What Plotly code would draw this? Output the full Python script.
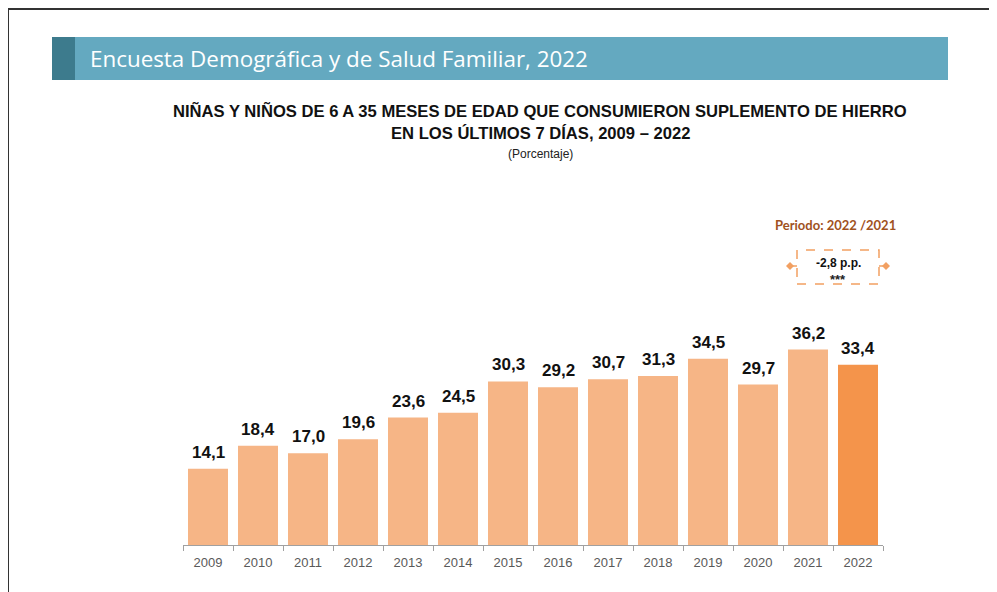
import plotly.graph_objects as go

years = ["2009", "2010", "2011", "2012", "2013", "2014", "2015",
         "2016", "2017", "2018", "2019", "2020", "2021", "2022"]
values = [14.1, 18.4, 17.0, 19.6, 23.6, 24.5, 30.3,
          29.2, 30.7, 31.3, 34.5, 29.7, 36.2, 33.4]
colors = ["#F6B586"] * 13 + ["#F4944B"]

header_text = "Encuesta Demográfica y de Salud Familiar, 2022"
title_l1 = "NIÑAS Y NIÑOS DE 6 A 35 MESES DE EDAD QUE CONSUMIERON SUPLEMENTO DE HIERRO"
title_l2 = "EN LOS ÚLTIMOS 7 DÍAS, 2009 – 2022"
subtitle = "(Porcentaje)"
period_text = "Periodo: 2022 /2021"
diff_text = "-2,8 p.p."
sig_text = "***"

# page has an 8px body margin: the figure starts at (8, 8) in the window
OX, OY = 8, 8
W, H = 997 - OX, 592 - OY
# plot area in window pixels
PL, PR, PT, PB = 183, 883, 221, 545
L, R, T, B = PL - OX, (OX + W) - PR, PT - OY, (OY + H) - PB
PW = PR - PL
PH = PB - PT

NARROW = "Liberation Sans Narrow, Arial Narrow, Liberation Sans, Arial"
ORANGE_LINE = "#F2A062"


def px(x):
    return (x - PL) / PW


def py(y):
    return (PB - y) / PH


def diamond(cx, cy, r):
    return dict(type="path", xref="paper", yref="paper",
                path=f"M {px(cx - r)} {py(cy)} L {px(cx)} {py(cy - r)} L {px(cx + r)} {py(cy)} "
                     f"L {px(cx)} {py(cy + r)} Z",
                fillcolor=ORANGE_LINE, line=dict(width=0))


fig = go.Figure()
fig.add_trace(go.Bar(
    x=years, y=values,
    marker=dict(color=colors, line=dict(width=0)),
    hoverinfo="skip",
))

shapes = []
# outer frame (top and left)
shapes.append(dict(type="line", xref="paper", yref="paper", x0=px(8), x1=px(1000), y0=py(9), y1=py(9),
                   line=dict(color="#333333", width=2)))
shapes.append(dict(type="line", xref="paper", yref="paper", x0=px(8), x1=px(8), y0=py(9), y1=py(600),
                   line=dict(color="#333333", width=2)))
# header band
shapes.append(dict(type="rect", xref="paper", yref="paper", x0=px(52), x1=px(948), y0=py(80), y1=py(37),
                   fillcolor="#64A9C0", line=dict(width=0), layer="below"))
shapes.append(dict(type="rect", xref="paper", yref="paper", x0=px(52), x1=px(75), y0=py(80), y1=py(37),
                   fillcolor="#3D7B8D", line=dict(width=0), layer="below"))
# dashed box
shapes.append(dict(type="rect", xref="paper", yref="paper", x0=px(797), x1=px(879), y0=py(284), y1=py(250),
                   fillcolor="rgba(0,0,0,0)", line=dict(color=ORANGE_LINE, width=1.5, dash="dash")))
# connectors with diamond ends
shapes.append(dict(type="line", xref="paper", yref="paper", x0=px(790), x1=px(797), y0=py(266), y1=py(266),
                   line=dict(color=ORANGE_LINE, width=1.5)))
shapes.append(dict(type="line", xref="paper", yref="paper", x0=px(879), x1=px(886), y0=py(266), y1=py(266),
                   line=dict(color=ORANGE_LINE, width=1.5)))
shapes.append(diamond(790, 266, 4))
shapes.append(diamond(886, 266, 4))

annotations = [
    dict(text=header_text, xref="paper", yref="paper", x=px(88), y=py(58), xanchor="left", yanchor="middle",
         showarrow=False, font=dict(family="Open Sans", size=22.4, color="white")),
    dict(text="<b>" + title_l1 + "</b>", xref="paper", yref="paper", x=px(540), y=py(111), xanchor="center",
         yanchor="middle", showarrow=False, font=dict(family=NARROW, size=16.6, color="#111111")),
    dict(text="<b>" + title_l2 + "</b>", xref="paper", yref="paper", x=px(540), y=py(134), xanchor="center",
         yanchor="middle", showarrow=False, font=dict(family=NARROW, size=16.6, color="#111111")),
    dict(text=subtitle, xref="paper", yref="paper", x=px(540), y=py(154), xanchor="center",
         yanchor="middle", showarrow=False, font=dict(family=NARROW, size=12, color="#222222")),
    dict(text="<b>" + period_text + "</b>", xref="paper", yref="paper", x=px(898), y=py(225), xanchor="right",
         yanchor="middle", showarrow=False, font=dict(family="Lato", size=13, color="#A0521E")),
    dict(text="<b>" + diff_text + "</b>", xref="paper", yref="paper", x=px(838), y=py(263), xanchor="center",
         yanchor="middle", showarrow=False, font=dict(family=NARROW, size=12, color="#111111")),
    dict(text="<b>" + sig_text + "</b>", xref="paper", yref="paper", x=px(838), y=py(279), xanchor="center",
         yanchor="middle", showarrow=False, font=dict(family=NARROW, size=13, color="#222222")),
]

# value labels above bars (x given as category index)
for i, v in enumerate(values):
    annotations.append(dict(
        x=i, y=v, xref="x", yref="y", text="<b>" + f"{v:.1f}".replace(".", ",") + "</b>",
        showarrow=False, yanchor="bottom", xanchor="center", yshift=5,
        font=dict(family=NARROW, size=17, color="#111111"),
    ))

fig.update_layout(
    width=W, height=H,
    margin=dict(l=L, r=R, t=T, b=B),
    paper_bgcolor="white", plot_bgcolor="white",
    showlegend=False,
    bargap=0.2,
    shapes=shapes,
    annotations=annotations,
    xaxis=dict(type="category", range=[-0.5, len(years) - 0.5], autorange=False,
               showgrid=False, showline=True, linecolor="#A0A0A0", linewidth=1,
               ticks="outside", tickson="boundaries", ticklen=5, tickcolor="#A0A0A0",
               ticklabelstandoff=5,
               tickfont=dict(family=NARROW, size=13, color="#595959"),
               fixedrange=True),
    yaxis=dict(range=[0, 60], autorange=False, visible=False, fixedrange=True),
)

fig.write_html("out.html")
